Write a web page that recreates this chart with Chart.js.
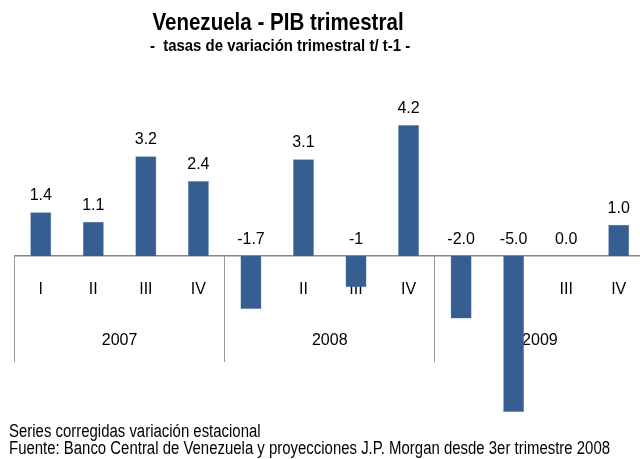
<!DOCTYPE html>
<html>
<head>
<meta charset="utf-8">
<script src="https://cdn.jsdelivr.net/npm/chart.js@4"></script>
<style>
  body { margin: 0; background: #fff; overflow: hidden; }
  #wrap { position: relative; width: 640px; height: 459px; overflow: hidden; font-family: 'Liberation Sans', Arial, sans-serif; color: #000; }
  #myChart { position: absolute; left: 0; top: 0; }
  #title { position: absolute; left: 0; width: 556px; top: 10px; text-align: center; font-weight: bold; font-size: 24px; line-height: 24px; white-space: nowrap; transform: scaleX(0.856); transform-origin: 278px 0; }
  #subtitle { position: absolute; left: 0; width: 560px; top: 37px; text-align: center; font-weight: bold; font-size: 17px; line-height: 17px; white-space: nowrap; transform: scaleX(0.88); transform-origin: 280px 0; }
  #notes { position: absolute; left: 9px; top: 423px; font-size: 18px; line-height: 16.6px; white-space: nowrap; transform: scaleX(0.83); transform-origin: 0 0; }
</style>
</head>
<body>
<div id="wrap">
  <canvas id="myChart" width="660" height="459"></canvas>
  <div id="title">Venezuela - PIB trimestral</div>
  <div id="subtitle">-&nbsp; tasas de variación trimestral t/ t-1 -</div>
  <div id="notes">Series corregidas variación estacional<br>Fuente: Banco Central de Venezuela y proyecciones J.P. Morgan desde 3er trimestre 2008</div>
</div>
<script>
var quarters = ["I","II","III","IV","I","II","III","IV","I","II","III","IV"];
var years = ["2007","2008","2009"];
var growth = [1.4, 1.1, 3.2, 2.4, -1.7, 3.1, -1.0, 4.2, -2.0, -5.0, 0.0, 1.0];
var growthLabels = ["1.4","1.1","3.2","2.4","-1.7","3.1","-1","4.2","-2.0","-5.0","0.0","1.0"];

var font = "'Liberation Sans', Arial, sans-serif";

// value labels above each bar (negative ones sit above the zero line)
var barLabels = {
    id: 'barLabels',
    afterDatasetsDraw: function(chart) {
        var c = chart.ctx;
        var meta = chart.getDatasetMeta(0);
        var zero = chart.scales.y.getPixelForValue(0);
        c.save();
        c.font = "16px " + font;
        c.fillStyle = "#000";
        c.textAlign = "center";
        c.textBaseline = "middle";
        meta.data.forEach(function(bar, i) {
            var top = Math.min(bar.y, zero);
            c.fillText(growthLabels[i], bar.x, top - 16.5);
        });
        c.restore();
    }
};

var ctx = document.getElementById('myChart').getContext("2d");
var myGraph = new Chart(ctx, {
    type: "bar",
    data: {
        labels: quarters,
        datasets: [{
            data: growth,
            backgroundColor: "#365E91",
            borderColor: "#6f8fb8",
            borderWidth: 0.5,
            barPercentage: 0.4,
            categoryPercentage: 1
        }]
    },
    options: {
        responsive: false,
        animation: false,
        layout: {
            // canvas is 20px wider than the window, the right edge gets clipped like the original
            padding: { top: 100, bottom: 47, left: 14.5, right: 15 }
        },
        plugins: {
            legend: { display: false },
            tooltip: { enabled: false }
        },
        scales: {
            y: { display: false, min: -5, max: 5 },
            x: {
                position: { y: 0 },
                grid: { drawOnChartArea: false, drawTicks: false },
                border: { color: "#888", width: 1.5 },
                ticks: { padding: 24, color: "#000", font: { family: font, size: 16 } }
            },
            x2: {
                type: "category",
                labels: years,
                position: { y: 0 },
                offset: true,
                grid: { offset: true, drawOnChartArea: false, drawTicks: true, tickLength: 106, color: "#999" },
                border: { display: false },
                ticks: { padding: -31, color: "#000", font: { family: font, size: 16 } }
            }
        }
    },
    plugins: [barLabels]
});
</script>
</body>
</html>
